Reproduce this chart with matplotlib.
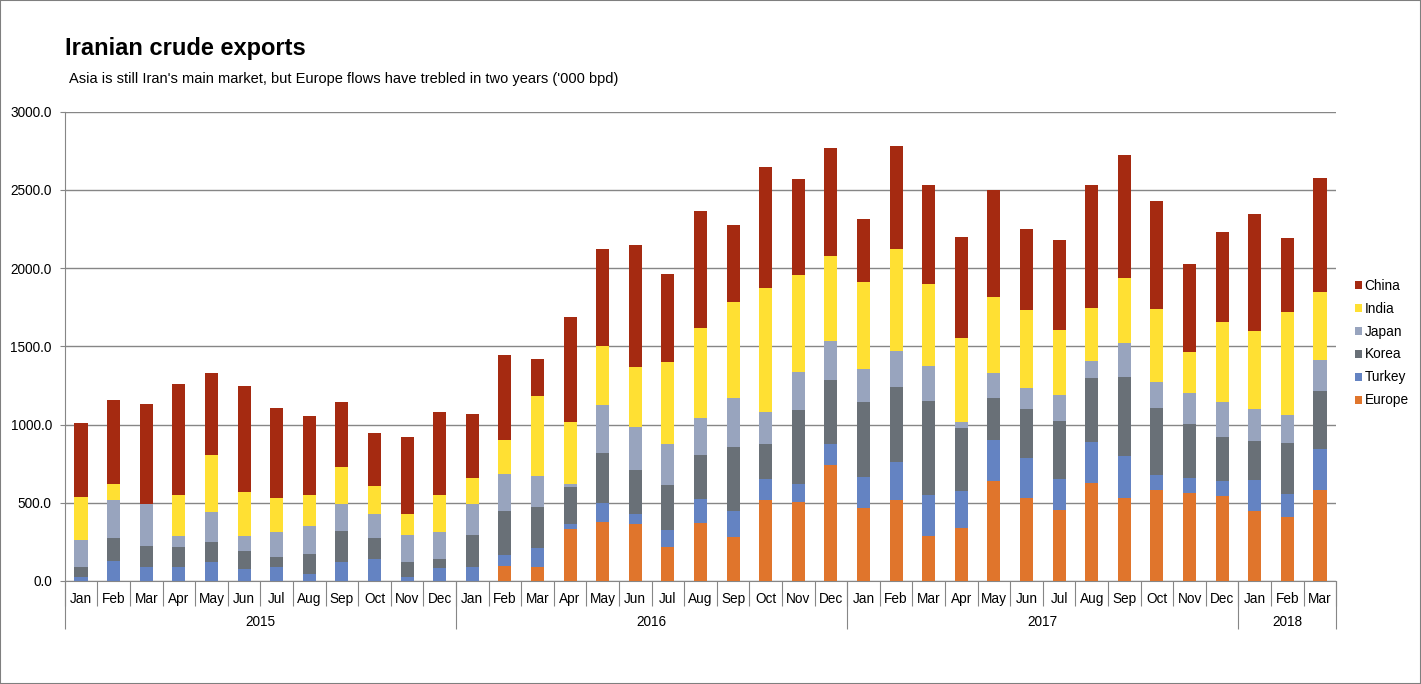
import matplotlib
matplotlib.use("Agg")
import matplotlib.pyplot as plt
from matplotlib.patches import Rectangle, Patch
from matplotlib.transforms import blended_transform_factory
import numpy as np

plt.rcParams['font.family'] = ['Liberation Sans', 'DejaVu Sans']

months = ['Jan','Feb','Mar','Apr','May','Jun','Jul','Aug','Sep','Oct','Nov','Dec'] * 3 + ['Jan','Feb','Mar']
years = ['2015', '2016', '2017', '2018']
year_spans = [12, 12, 12, 3]

europe = [0]*12 + [0,96,89,332,377,364,217,371,281,518,505,741,
                   466,518,288,339,641,530,454,628,530,581,562,543,
                   447,409,581]
turkey = [28,130,92,92,121,79,92,47,121,141,28,83,
          89,70,122,32,121,64,109,153,166,134,115,134,
          199,242,262,236,260,256,198,260,269,98,96,96,
          198,147,262]
korea = [61,145,132,125,128,113,61,126,199,134,93,58,
         205,281,262,237,320,281,287,281,409,223,473,409,
         479,480,600,403,268,313,370,409,505,426,345,281,
         250,326,371]
japan = [173,243,268,71,192,96,160,178,172,153,173,172,
         198,237,198,19,307,275,262,237,313,205,243,250,
         211,230,224,38,160,134,167,109,217,167,198,224,
         204,179,198]
india = [275,102,0,262,364,281,217,199,236,179,134,237,
         166,217,511,396,377,383,524,575,614,792,619,543,
         556,651,524,537,486,499,415,338,415,466,262,511,
         499,658,435]
china = [473,537,639,709,524,677,575,504,416,339,492,530,
         409,543,237,671,619,780,563,747,492,773,614,690,
         402,659,632,645,683,517,575,786,786,690,563,575,
         747,473,728]

series = [('Europe', europe, '#E0752C'), ('Turkey', turkey, '#6483C2'),
          ('Korea', korea, '#697077'), ('Japan', japan, '#98A4BE'),
          ('India', india, '#FFE033'), ('China', china, '#A52A11')]

W, H = 1421, 684
GRAY = '#868686'
FS = 9.8
fig = plt.figure(figsize=(W/100, H/100), dpi=100, facecolor='white')
ax = fig.add_axes([64.7/W, (H-581)/H, (1336.3-64.7)/W, (581-111.5)/H])

x = np.arange(len(months))
bottom = np.zeros(len(months))
for name, vals, col in series:
    ax.bar(x, vals, width=0.4, bottom=bottom, color=col, linewidth=0, zorder=3)
    bottom += np.array(vals)

ax.set_xlim(-0.5, len(months)-0.5)
ax.set_ylim(0, 3000)
ax.set_yticks(np.arange(0, 3001, 500))
ax.set_yticklabels([f'{v:.1f}' for v in np.arange(0, 3001, 500)], fontsize=FS)
ax.yaxis.grid(True, color=GRAY, lw=1)
ax.set_axisbelow(True)
ax.tick_params(axis='y', length=3.3, width=0.8, color=GRAY, pad=6)
for s in ('top', 'right'):
    ax.spines[s].set_visible(False)
for s in ('left', 'bottom'):
    ax.spines[s].set_color(GRAY)
    ax.spines[s].set_linewidth(0.8)

# month labels and separators
ax.set_xticks(x)
ax.set_xticklabels(months, fontsize=FS)
ax.tick_params(axis='x', which='major', length=0, pad=8)
ax.set_xticks(np.arange(-0.5, len(months)), minor=True)
ax.tick_params(axis='x', which='minor', length=17.8, width=0.8, color=GRAY)

# year labels and separators
edges = np.concatenate([[0], np.cumsum(year_spans)]) - 0.5
sec = ax.secondary_xaxis('bottom')
sec.set_xticks(edges)
sec.set_xticklabels([])
sec.tick_params(axis='x', length=34.5, width=0.8, color=GRAY)
sec.spines['bottom'].set_visible(False)
tr = blended_transform_factory(ax.transData, ax.transAxes)
for i, y in enumerate(years):
    ax.text((edges[i]+edges[i+1])/2, -41/469.5, y, transform=tr, ha='center', va='center', fontsize=FS)

# titles
fig.text(65/W, 1-48/H, 'Iranian crude exports', fontsize=17.05, fontweight='bold', va='center', ha='left')
fig.text(69/W, 1-78.5/H, "Asia is still Iran's main market, but Europe flows have trebled in two years ('000 bpd)",
         fontsize=10.5, va='center', ha='left')

# legend
handles = [Patch(color=c, label=n, lw=0) for n, _, c in reversed(series)]
fig.legend(handles=handles, loc='center left', bbox_to_anchor=(1355/W, 1-343/H), frameon=False,
           fontsize=FS, handlelength=0.55, handleheight=0.55, handletextpad=0.15,
           labelspacing=0.66, borderpad=0, borderaxespad=0)

fig.add_artist(Rectangle((0, 0), 1, 1, transform=fig.transFigure, fill=False, ec='#7f7f7f', lw=1.5))
fig.savefig('out.png', dpi=100)
